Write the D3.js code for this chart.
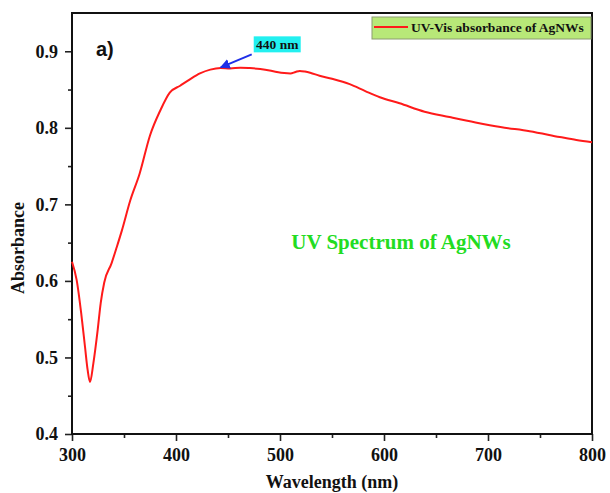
<!DOCTYPE html>
<html>
<head>
<meta charset="utf-8">
<script src="https://cdn.jsdelivr.net/npm/d3@7"></script>
<style>
  body { margin: 0; background: #fff; }
  svg { display: block; }
  .tick text { font-family: "Liberation Serif", serif; font-weight: bold; font-size: 18px; fill: #111; }
  .tick line { stroke: #222; stroke-width: 1.6; }
</style>
</head>
<body>
<svg></svg>
<script>
// wavelength (nm) / absorbance
const wavelength = [300, 304.5, 309, 312.5, 315, 317.3, 320.5, 324.7, 327.6, 331, 338, 343, 348, 356, 365, 375, 385, 394, 404, 413, 423, 433, 443, 452, 462, 471, 481, 490, 497, 504, 510, 515, 519, 524, 529, 538, 550, 567, 582, 596, 615, 639, 663, 688, 712, 740, 769, 785, 800];
const absorbance = [0.625, 0.601, 0.556, 0.514, 0.484, 0.468, 0.492, 0.536, 0.571, 0.598, 0.623, 0.644, 0.666, 0.705, 0.740, 0.790, 0.823, 0.846, 0.855, 0.863, 0.871, 0.876, 0.878, 0.8775, 0.8786, 0.878, 0.8768, 0.875, 0.873, 0.8715, 0.871, 0.873, 0.8743, 0.8735, 0.872, 0.868, 0.864, 0.857, 0.848, 0.840, 0.832, 0.821, 0.814, 0.807, 0.801, 0.7956, 0.788, 0.784, 0.781];

const xTicks = [300, 400, 500, 600, 700, 800];
const xMinor = [350, 450, 550, 650, 750];
const yTicks = [0.4, 0.5, 0.6, 0.7, 0.8, 0.9];
const yMinor = [0.45, 0.55, 0.65, 0.75, 0.85];

const seriesName = "UV-Vis absorbance of AgNWs";
const peakLabel = "440 nm";
const peakPoint = [443, 0.879];

const width = 610;
const height = 493;
const plotLeft = 72, plotRight = 592, plotTop = 13, plotBottom = 434;

const svg = d3.select("svg").attr("width", width).attr("height", height);

const x = d3.scaleLinear().domain([300, 800]).range([plotLeft, plotRight]);
const y = d3.scaleLinear().domain([0.4, 0.95]).range([plotBottom, plotTop]);

const values = wavelength.map((w, i) => [w, absorbance[i]]);

// axes
let gx = svg.append("g").attr("transform", "translate(0," + plotBottom + ")")
  .call(d3.axisBottom(x).tickValues(xTicks).tickSize(7).tickSizeOuter(0).tickPadding(7));
gx.select(".domain").remove();
let gxm = svg.append("g").attr("transform", "translate(0," + plotBottom + ")")
  .call(d3.axisBottom(x).tickValues(xMinor).tickSize(4).tickFormat(""));
gxm.select(".domain").remove();

let gy = svg.append("g").attr("transform", "translate(" + plotLeft + ",0)")
  .call(d3.axisLeft(y).tickValues(yTicks).tickSize(7).tickSizeOuter(0).tickPadding(7).tickFormat(d3.format(".1f")));
gy.select(".domain").remove();
let gym = svg.append("g").attr("transform", "translate(" + plotLeft + ",0)")
  .call(d3.axisLeft(y).tickValues(yMinor).tickSize(4).tickFormat(""));
gym.select(".domain").remove();

// frame
svg.append("rect")
  .attr("x", plotLeft).attr("y", plotTop)
  .attr("width", plotRight - plotLeft).attr("height", plotBottom - plotTop)
  .attr("fill", "none").attr("stroke", "#111").attr("stroke-width", 2);

// spectrum
const line = d3.line().x(d => x(d[0])).y(d => y(d[1])).curve(d3.curveMonotoneX);
svg.append("path").datum(values)
  .attr("d", line)
  .attr("fill", "none")
  .attr("stroke", "#ff1a1a")
  .attr("stroke-width", 2);

// axis titles
svg.append("text")
  .attr("x", (plotLeft + plotRight) / 2).attr("y", 488)
  .attr("text-anchor", "middle")
  .style("font-family", "Liberation Serif, serif").style("font-weight", "bold").style("font-size", "18px")
  .attr("fill", "#111")
  .text("Wavelength (nm)");

svg.append("text")
  .attr("transform", "translate(24,248) rotate(-90)")
  .attr("text-anchor", "middle")
  .style("font-family", "Liberation Serif, serif").style("font-weight", "bold").style("font-size", "18px")
  .attr("fill", "#111")
  .text("Absorbance");

// panel letter
svg.append("text")
  .attr("x", 96).attr("y", 56)
  .style("font-family", "Liberation Sans, Arial, sans-serif").style("font-weight", "bold").style("font-size", "20px")
  .attr("fill", "#111")
  .text("a)");

// inner title
svg.append("text")
  .attr("x", 401).attr("y", 249)
  .attr("text-anchor", "middle")
  .style("font-family", "Liberation Serif, serif").style("font-weight", "bold").style("font-size", "21px")
  .attr("fill", "#22dc22")
  .text("UV Spectrum of AgNWs");

// legend
const legend = svg.append("g");
legend.append("rect")
  .attr("x", 372).attr("y", 17).attr("width", 219).attr("height", 22)
  .attr("fill", "#b8e878").attr("stroke", "#8c9c70").attr("stroke-width", 1);
legend.append("line")
  .attr("x1", 374).attr("x2", 408).attr("y1", 27).attr("y2", 27)
  .attr("stroke", "#ff1a1a").attr("stroke-width", 2);
legend.append("text")
  .attr("x", 411).attr("y", 32)
  .style("font-family", "Liberation Serif, serif").style("font-weight", "bold").style("font-size", "13.5px")
  .attr("fill", "#111")
  .text(seriesName);

// peak annotation
const tipX = x(peakPoint[0]), tipY = y(peakPoint[1]);
svg.append("defs").append("marker")
  .attr("id", "head").attr("viewBox", "0 0 10 10")
  .attr("refX", 9).attr("refY", 5)
  .attr("markerWidth", 5).attr("markerHeight", 5)
  .attr("orient", "auto")
  .append("path").attr("d", "M0,0L10,5L0,10z").attr("fill", "#1f2fe8");
svg.append("line")
  .attr("x1", tipX + 31).attr("y1", tipY - 13)
  .attr("x2", tipX).attr("y2", tipY)
  .attr("stroke", "#1f2fe8").attr("stroke-width", 2)
  .attr("marker-end", "url(#head)");
svg.append("rect")
  .attr("x", tipX + 33).attr("y", tipY - 31)
  .attr("width", 47).attr("height", 16)
  .attr("fill", "#22f0f0");
svg.append("text")
  .attr("x", tipX + 56.5).attr("y", tipY - 18)
  .attr("text-anchor", "middle")
  .style("font-family", "Liberation Serif, serif").style("font-weight", "bold").style("font-size", "13.5px")
  .attr("fill", "#111")
  .text(peakLabel);
</script>
</body>
</html>
